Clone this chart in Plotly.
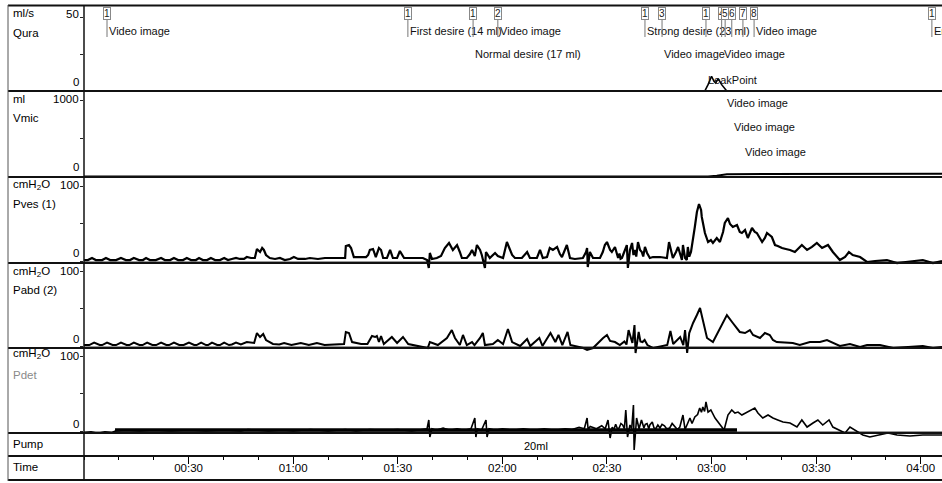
import plotly.graph_objects as go

W, H = 942, 483

# ---------------- data (time in s, values in channel units) ----------------
qura_pts = [(0, 0), (178.1, 0), (179.0, 4.2), (180.0, 9.9), (180.7, 6.5), (181.2, 5.3),
            (181.9, 8.3), (182.9, 4.2), (184.3, 0), (246.1, 0)]

vmic_pts = [(0, 0), (179.0, 0), (181.5, 12), (184.4, 30), (195, 33), (246.1, 38)]

pves_pts = [(0,1.3),(1.1,1.3),(2.3,4),(3.4,1.3),(5.2,1.3),(6.3,4),(7.5,1.3),(9.2,1.3),(10.6,4),(12.0,1.3),
    (13.2,1.3),(14.3,4),(15.8,1.3),(16.9,1.3),(17.8,4),(18.9,1.3),(20.6,1.3),(22.1,4),(23.2,1.3),(24.7,1.3),
    (25.8,4),(27.0,1.3),(28.4,1.3),(29.5,4),(30.7,1.3),(32.1,1.3),(33.0,4),(34.1,1.3),(35.3,1.3),(36.4,4),
    (37.6,1.3),(39.0,1.3),(40.2,4),(41.3,1.3),(42.4,2.7),(43.6,4),(44.7,2.7),(45.9,2.7),(46.7,5.3),(47.9,4),
    (49.0,4),(49.6,16),(50.5,12),(51.1,17.3),(51.6,14.7),(52.2,8),(53.3,4),(54.8,2.7),(56.2,4),(57.6,1.3),
    (59.1,2.7),(60.2,5.3),(61.4,2.7),(63.4,2.7),(64.8,4),(67.1,2.7),(69.1,4),(72.0,4),(74.0,4),(74.9,4),
    (75.1,20),(76.0,21.3),(76.6,17.3),(77.4,5.3),(79.2,5.3),(80.9,5.3),(81.5,8),(82.0,14.7),(82.9,16),(83.7,5.3),
    (84.6,17.3),(85.2,14.7),(85.8,4),(86.9,4),(87.8,14.7),(88.6,4),(89.8,4),(90.6,13.3),(91.8,4),(93.5,4),
    (95.8,4),(97.2,4),(98.4,1.3),(98.9,-9.3),(99.2,10.7),(99.8,2.7),(101.2,4),(102.4,6.7),(103.5,17.3),(104.7,24),
    (105.8,14.7),(107.0,21.3),(107.8,12),(108.4,4),(109.8,4),(110.7,9.3),(111.3,14.7),(112.1,6.7),(112.7,21.3),(113.6,14.7),
    (114.1,8),(115.0,-9.3),(115.3,12),(115.9,6.7),(116.4,4),(117.9,10.7),(118.7,6.7),(120.2,4),(121.3,25.3),(122.8,8),
    (123.6,4),(125.6,4),(127.1,12),(127.9,4),(129.9,4),(130.8,14.7),(131.6,4),(132.8,5.3),(133.6,17.3),(134.5,14.7),
    (135.7,18.7),(136.5,9.3),(137.1,5.3),(138.5,21.3),(139.4,4),(140.8,2.7),(143.1,4),(144.0,12),(144.3,17.3),(144.5,-8),
    (145.1,12),(146.0,4),(148.0,4),(148.8,12),(149.4,21.3),(150.0,25.3),(150.9,14.7),(151.4,12),(152.3,18.7),(153.2,4),
    (153.6,10),(153.9,3),(154.3,4),(154.7,9),(155.2,14.7),(155.7,21.3),(156.0,-9.3),(156.6,14.7),(157.2,24),(157.6,8),
    (158.0,14.7),(158.4,6),(158.9,25.3),(159.5,14.7),(160.0,12),(160.4,6),(160.9,18.7),(161.5,10.7),(162.3,4),(163.2,5.3),
    (165.2,5.3),(166.6,4),(167.2,4),(167.8,25.3),(168.9,4),(169.8,12),(170.4,18.7),(171.5,1.3),(171.8,21.3),(172.4,4),
    (172.9,1.3),(173.2,18.7),(173.6,6),(174.1,12),(174.7,28),(175.2,45.3),(175.8,65.3),(176.4,76),(177.0,68),(177.2,58.7),
    (178.1,37.3),(179.0,25.3),(179.8,28),(180.4,24),(181.5,30.7),(182.4,25.3),(183.3,38.7),(183.8,50.7),(184.7,57.3),(185.3,49.3),
    (186.1,45.3),(187.3,48),(188.1,38.7),(188.7,37.3),(189.6,41.3),(190.4,30.7),(191.6,44),(192.4,38.7),(193.0,37.3),(194.5,25.3),
    (195.3,30.7),(195.9,37.3),(197.3,32),(198.2,21.3),(199.0,20),(200.2,17.3),(201.3,16),(202.5,14.7),(203.9,12),(205.1,17.3),
    (205.9,21.3),(207.4,14.7),(208.8,18.7),(210.2,24),(211.7,17.3),(213.4,21.3),(214.8,12),(216.8,1.3),(218.3,5.3),(219.4,12),
    (220.5,8),(222.6,5.3),(224.6,-1.3),(226.9,0),(230.3,1.3),(233.2,-2.7),(236.0,-1.3),(238.3,0),(240.6,1.3),(243.5,-2.7),
    (246.1,0)]

pabd_pts = [(0,1.3),(1.5,1.3),(2.9,4.5),(4.5,1.3),(5.2,1.3),(6.6,4.5),(8.2,1.3),(9.2,1.3),(10.6,4.5),(12.2,1.3),
    (13.0,1.3),(14.3,4.5),(15.9,1.3),(16.8,1.3),(18.1,4.5),(19.6,1.3),(20.7,1.3),(22.1,4.5),(23.6,1.3),(24.4,1.3),
    (25.8,4.5),(27.3,1.3),(28.6,1.3),(30.1,4.5),(31.6,1.3),(32.3,1.3),(33.6,4.5),(35.0,1.3),(35.6,1.3),(36.7,4.5),
    (38.2,1.3),(39.0,1.3),(40.2,4.5),(41.6,1.3),(42.4,2),(43.6,4.5),(45.0,2),(46.7,5.3),(48.8,4),(49.6,17.3),
    (50.5,12),(51.4,16),(52.2,8),(54.2,2.7),(56.0,2),(57.4,4),(59.5,1.3),(62.2,4),(64.5,1.3),(66.8,4),
    (69.0,1.3),(72.0,2),(74.6,2.7),(75.1,18.7),(76.0,17.3),(76.9,5.3),(79.5,2.7),(81.3,2.7),(82.6,13.3),(83.5,12),
    (84.0,13.3),(84.6,5.3),(85.2,13.3),(86.0,2.7),(88.3,12),(89.8,4),(91.5,12),(93.0,2.7),(95.8,0),(98.6,-2.7),
    (99.2,5.3),(101.5,1.3),(104.1,10.7),(105.5,21.3),(106.4,10.7),(107.8,1.3),(108.7,14.7),(109.8,1.3),(111.3,5.3),(112.0,1.3),
    (113.6,10.7),(114.4,17.3),(115.0,1.3),(117.3,2.7),(118.7,8),(120.2,2.7),(121.6,22.7),(122.8,5.3),(125.1,0),(127.1,9.3),
    (128.0,0),(130.6,10.7),(131.5,0),(133.8,17.3),(135.2,5.3),(136.1,14.7),(137.2,1.3),(138.7,18.7),(139.5,1.3),(143.2,-2.7),
    (144.3,-5.3),(146.0,-2.7),(148.9,10.7),(150.0,14.7),(150.9,6.7),(152.3,5.3),(153.7,1.3),(155.0,6),(155.6,2),(156.2,21.3),
    (157.3,4),(157.9,28),(158.2,-9.3),(159.1,18.7),(159.6,6),(160.2,5.3),(160.8,8),(161.6,1.3),(163.3,-2.7),(167.3,1.3),
    (168.2,20),(169.0,2.7),(171.0,12),(171.9,1.3),(172.4,21.3),(173.0,-9.3),(173.6,17.3),(174.7,30.7),(175.8,41.3),(176.7,50.7),
    (177.5,34.7),(178.7,10.7),(180.4,5.3),(182.4,24),(184.4,41.3),(186.1,30.7),(188.1,18.7),(189.6,17.3),(191.0,21.3),(191.9,14.7),
    (193.9,10.7),(195.3,17.3),(196.7,14.7),(197.6,8),(198.7,5.3),(203.3,4),(205.3,1.3),(208.2,5.3),(211.1,5.3),(213.1,8),
    (214.8,4),(216.8,0),(219.7,2.7),(222.6,-1.3),(224.6,1.3),(228.3,1.3),(232.1,-2.7),(236.9,-1.3),(240.6,0),(243.5,-2.7),
    (246.1,-1.3)]

pdet_pts = [(0,-2),(2,-1),(4,-3),(6,-1),(8,-2),(9,0),(12,1),(16,0),(20,1),(25,0),(30,1),(35,0),(40,1),(45,0),
    (47,2),(50,1),(53,0),(57,1),(60,0),(65,2),(70,0),(75,2),(78,0),(82,2),(86,1),(90,2),(94,0),(97,2),
    (98.4,3),(98.9,14.7),(99.2,-8),(99.8,3),(101,1),(103,4),(105,1),(107,3),(109,1),(111,3),(112.1,17.3),(112.4,-8),
    (112.8,3),(114,1),(115.3,14.7),(115.6,-8),(116.2,3),(118,1),(120,3),(123,1),(126,3),(129,1),(132,3),(135,1),
    (138,3),(140,2),(142,5),(143.5,3),(144.3,17.3),(144.6,2),(145.2,6),(147,3),(148.5,7),(149.5,3),(150.3,14.7),(150.9,-9.3),
    (151.5,5),(152.0,2),(152.5,9),(153.0,3),(153.5,4),(154.0,10),(154.5,8),(155.0,3),(155.4,28),(155.9,-8),(156.6,8),
    (157.1,3),(157.6,34.7),(157.8,-25.3),(158.5,17.3),(159.2,3),(159.9,14.7),(160.6,4),(161.0,9),(161.5,10),(162.0,3),
    (162.3,8),(163.0,12),(163.5,4),(164.0,3),(164.6,8),(165.2,4),(165.8,9),(166.5,7),(167.1,3),(168.0,4),(168.7,10),
    (169.5,6),(170.2,2),(170.9,5.3),(171.8,21.3),(172.4,2),(172.9,8),(173.8,17.3),(174.4,10),(175.2,18.7),(176.0,22),
    (176.6,30.7),(177.1,25),(177.5,32),(178.0,26),(178.4,38.7),(179.0,25.3),(179.8,28),(181.0,17.3),(182.4,8),(183.6,1.3),
    (184.7,21.3),(185.8,28),(186.7,24),(187.6,25.3),(188.7,21.3),(190.2,25.3),(191.6,28),(192.4,30.7),(193.3,24),(194.7,17.3),
    (196.2,21.3),(197.6,17.3),(199.0,14.7),(200.5,12),(202.5,10.7),(204.5,5.3),(205.9,14.7),(207.4,5.3),(209.1,10.7),(210.5,14.7),
    (211.9,8),(213.7,14.7),(214.8,5.3),(216.8,1.3),(218.3,-2.7),(219.7,5.3),(221.1,1.3),(223.4,-5.3),(225.4,-8),(228.3,-5.3),
    (230.6,-2.7),(233.2,-5.3),(236.9,-6.7),(240.6,-5.3),(246.1,-5.3)]

pump_on = [8.9, 187.3]
pump_text = "20ml"
pump_text_t = 129.6

time_ticks = [30, 60, 90, 120, 150, 180, 210, 240]
time_labels = ["00:30", "01:00", "01:30", "02:00", "02:30", "03:00", "03:30", "04:00"]
t_max = 246.1

# channel labels: unit, name, top scale, bottom scale
chan_units = ["ml/s", "ml", "cmH<sub>2</sub>O", "cmH<sub>2</sub>O", "cmH<sub>2</sub>O"]
chan_names = ["Qura", "Vmic", "Pves (1)", "Pabd (2)", "Pdet"]
chan_top = ["50", "1000", "100", "100", "100"]
chan_bot = ["0", "0", "0", "0", "0"]

# events
ev_t = [6.6, 92.9, 111.6, 118.7, 160.9, 165.8, 178.4, 182.9, 183.9, 185.8, 189.0, 192.2, 243.2]
ev_num = ["1", "1", "1", "2", "1", "3", "1", "4", "5", "6", "7", "8", "1"]
ev_text = ["Video image", "First desire (14 ml)", "Normal desire (17 ml)", "Video image",
           "Strong desire (23 ml)", "Video image", "LeakPoint", "Video image", "Video image",
           "Video image", "Video image", "Video image", "End"]
ev_line = [0, 0, 1, 0, 0, 1, 2, 1, 3, 4, 5, 0, 0]

# ---------------- layout helpers ----------------
FONT = "Liberation Sans, Arial, sans-serif"
FS = 11
X0 = 84          # left edge of plotting area (px)
XL = 8           # left frame
def py(p):
    return 1 - p / H
def px(p):
    return p / W

def yaxis(top, bot, zero, ppu, ticks):
    return dict(domain=[py(bot), py(top)], range=[(zero - bot) / ppu, (zero - top) / ppu],
                showgrid=False, zeroline=False, showline=False, showticklabels=False,
                ticks="outside", ticklen=3, tickcolor="#222", tickvals=ticks, anchor="x",
                fixedrange=True)

fig = go.Figure()

def add(pts, axis, width, color="black"):
    fig.add_trace(go.Scatter(x=[p[0] for p in pts], y=[p[1] for p in pts], mode="lines",
                             line=dict(color=color, width=width), yaxis=axis, xaxis="x",
                             hoverinfo="skip", showlegend=False))

add(qura_pts, "y", 1.6)
add(vmic_pts, "y2", 2.0)
add(pves_pts, "y3", 2.2)
add(pabd_pts, "y4", 2.0)
add(pdet_pts, "y5", 1.6)
fig.add_trace(go.Scatter(x=pump_on, y=[1, 1], mode="lines", line=dict(color="black", width=3.5),
                         yaxis="y6", xaxis="x", hoverinfo="skip", showlegend=False))
# invisible trace carrying the time-label axis
fig.add_trace(go.Scatter(x=[0, t_max], y=[0, 0], mode="lines", line=dict(width=0),
                         xaxis="x2", yaxis="y6", hoverinfo="skip", showlegend=False))

row_lines = [5.5, 91, 177, 263, 348, 433, 456, 480]

layout = dict(
    width=W, height=H, margin=dict(l=0, r=0, t=0, b=0),
    paper_bgcolor="white", plot_bgcolor="rgba(0,0,0,0)",
    font=dict(family=FONT, size=FS, color="black"),
    xaxis=dict(domain=[px(X0), 1], range=[0, t_max], anchor="free", position=py(456),
               showgrid=False, zeroline=False, showline=False, showticklabels=False,
               tickmode="array", tickvals=time_ticks,
               ticks="outside", ticklen=7, tickcolor="black", tickwidth=1,
               minor=dict(tickmode="linear", tick0=0, dtick=10, ticks="outside", ticklen=3,
                          tickcolor="black", showgrid=False),
               fixedrange=True),
    xaxis2=dict(domain=[px(X0), 1], range=[0, t_max], anchor="free", position=py(459),
                overlaying="x", showgrid=False, zeroline=False, showline=False, ticks="",
                tickmode="array", tickvals=time_ticks, ticktext=time_labels,
                tickfont=dict(family=FONT, size=FS + 0.5, color="black"), fixedrange=True),
    yaxis=yaxis(0, 100, 90.8, 1.47, [0, 25, 50]),
    yaxis2=yaxis(85, 185, 176.6, 0.0766, [0, 500, 1000]),
    yaxis3=yaxis(170, 280, 261, 0.75, [0, 50, 100]),
    yaxis4=yaxis(255, 362, 346, 0.75, [0, 50, 100]),
    yaxis5=yaxis(340, 456, 431, 0.75, [0, 50, 100]),
    yaxis6=dict(domain=[py(456), py(425)], range=[(433.5 - 456) / 22.5, (433.5 - 425) / 22.5 + 1],
                visible=False, anchor="x", fixedrange=True),
)
for k in ["yaxis3", "yaxis4", "yaxis5"]:
    layout[k].update(zeroline=True, zerolinecolor="#9a9a9a", zerolinewidth=1)
fig.update_layout(**layout)

# frame shapes
shapes = []
for i, yy in enumerate(row_lines):
    w = 2.2 if i in (0, len(row_lines) - 1) else 2.0
    shapes.append(dict(type="line", xref="paper", yref="paper", x0=px(XL), x1=1, y0=py(yy), y1=py(yy),
                       line=dict(color="#111", width=w), layer="above"))
shapes.append(dict(type="line", xref="paper", yref="paper", x0=px(X0), x1=px(X0), y0=py(5), y1=py(481),
                   line=dict(color="#111", width=1.5)))
shapes.append(dict(type="line", xref="paper", yref="paper", x0=px(XL), x1=px(XL), y0=py(5), y1=py(481),
                   line=dict(color="#555", width=1)))
fig.update_layout(shapes=shapes)

ann = []
row_tops = [6, 91, 177, 263, 348]
unit_dy = [7, 8, 8, 9, 6]
for i in range(5):
    top = row_tops[i]
    ann.append(dict(text=chan_units[i], x=px(11), y=py(top + unit_dy[i]), xref="paper", yref="paper",
                    xanchor="left", yanchor="middle", showarrow=False, font=dict(size=FS + 0.5)))
    ann.append(dict(text=chan_names[i], x=px(11), y=py(top + 27), xref="paper", yref="paper",
                    xanchor="left", yanchor="middle", showarrow=False,
                    font=dict(size=FS + 0.5, color="#8a8a8a" if chan_names[i] == "Pdet" else "black")))
    ann.append(dict(text=chan_top[i], x=px(81), y=py(top + 8), xref="paper", yref="paper",
                    xanchor="right", yanchor="middle", showarrow=False, font=dict(size=FS + 0.5)))
    ann.append(dict(text=chan_bot[i], x=px(81), y=py(top + 76), xref="paper", yref="paper",
                    xanchor="right", yanchor="middle", showarrow=False, font=dict(size=FS + 0.5)))
ann.append(dict(text="Pump", x=px(11), y=py(444), xref="paper", yref="paper", xanchor="left",
                yanchor="middle", showarrow=False, font=dict(size=FS + 0.5)))
ann.append(dict(text="Time", x=px(11), y=py(467), xref="paper", yref="paper", xanchor="left",
                yanchor="middle", showarrow=False, font=dict(size=FS + 0.5)))
ann.append(dict(text=pump_text, x=pump_text_t, y=py(446), xref="x", yref="paper", xanchor="center",
                yanchor="middle", showarrow=False, font=dict(size=FS)))

line_y = [31, 54, 80, 103, 127, 152]
for t, n, txt, ln in zip(ev_t, ev_num, ev_text, ev_line):
    ann.append(dict(text=n, x=t, y=py(37), xref="x", yref="paper", ax=0, ay=-23,
                    showarrow=True, arrowhead=0, arrowwidth=1, arrowcolor="#777",
                    bordercolor="#888", borderwidth=1, borderpad=0, bgcolor="white",
                    font=dict(size=10, color="#222")))
    ann.append(dict(text=txt, x=t, y=py(line_y[ln]), xref="x", yref="paper", xanchor="left",
                    yanchor="middle", xshift=0, showarrow=False, font=dict(size=FS, color="#111")))
fig.update_layout(annotations=ann)

fig.write_html("out.html", config={"displayModeBar": False},
               post_script="document.body.style.margin='0';document.body.style.overflow='hidden';")
